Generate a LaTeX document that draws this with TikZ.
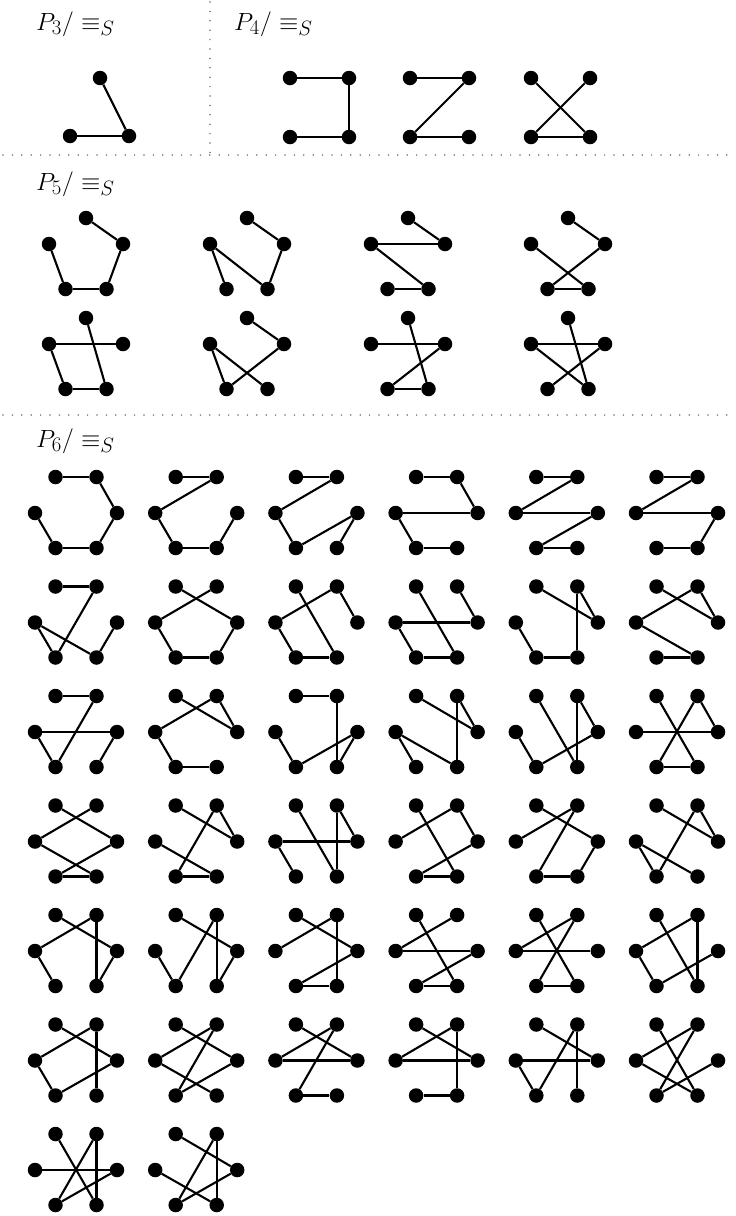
\documentclass[tikz,border=0pt]{standalone}
\newcommand{\HexG}[4]{%
  \node[dot] (#1tl) at ({#2-20.5},#3) {};
  \node[dot] (#1tr) at ({#2+20.5},#3) {};
  \node[dot] (#1l) at ({#2-41},{#3+36}) {};
  \node[dot] (#1r) at ({#2+41},{#3+36}) {};
  \node[dot] (#1bl) at ({#2-20.5},{#3+71}) {};
  \node[dot] (#1br) at ({#2+20.5},{#3+71}) {};
  \foreach \pa/\pb in {#4} {\draw[edge] (#1\pa) -- (#1\pb);}%
}
\newcommand{\PentG}[4]{%
  \node[dot] (#1t) at (#2,#3) {};
  \node[dot] (#1ul) at ({#2-37},{#3+26}) {};
  \node[dot] (#1ur) at ({#2+37},{#3+26}) {};
  \node[dot] (#1bl) at ({#2-20.5},{#3+71}) {};
  \node[dot] (#1br) at ({#2+20.5},{#3+71}) {};
  \foreach \pa/\pb in {#4} {\draw[edge] (#1\pa) -- (#1\pb);}%
}
\newcommand{\SqG}[4]{%
  \node[dot] (#1tl) at (#2,#3) {};
  \node[dot] (#1tr) at ({#2+59},#3) {};
  \node[dot] (#1bl) at (#2,{#3+59}) {};
  \node[dot] (#1br) at ({#2+59},{#3+59}) {};
  \foreach \pa/\pb in {#4} {\draw[edge] (#1\pa) -- (#1\pb);}%
}
\begin{document}
\begin{tikzpicture}[x=1pt,y=-1pt,
  dot/.style={circle,fill=black,draw=none,inner sep=0pt,minimum size=14.5pt},
  edge/.style={line width=2.1pt,black},
  sepline/.style={line width=1.7pt,black!55,dash pattern=on 0pt off 9.4pt,line cap=round},
  lab/.style={anchor=base west,inner sep=0pt,font=\fontsize{29.5}{34}\selectfont}]
\useasboundingbox (0,0) rectangle (736,1216);
% separators
\coordinate (vtop) at (210,2);
\coordinate (vbot) at (210,155);
\coordinate (h1l) at (3,155);
\coordinate (h1r) at (736,155);
\coordinate (h2l) at (3,415);
\coordinate (h2r) at (736,415);
\draw[sepline] (vtop) -- (vbot);
\draw[sepline] (h1l) -- (h1r);
\draw[sepline] (h2l) -- (h2r);
% labels
\node[lab] (L3) at (36,30) {$P_3/\equiv_S$};
\node[lab] (L4) at (234,30) {$P_4/\equiv_S$};
\node[lab] (L5) at (36,190) {$P_5/\equiv_S$};
\node[lab] (L6) at (36,447) {$P_6/\equiv_S$};
% P3
\node[dot] (p3t) at (100,78) {};
\node[dot] (p3bl) at (70,136) {};
\node[dot] (p3br) at (129,136) {};
\draw[edge] (p3t) -- (p3br);
\draw[edge] (p3bl) -- (p3br);
% P4
\SqG{qa}{290}{78}{tl/tr,tr/br,br/bl}
\SqG{qb}{410}{78}{tl/tr,tr/bl,bl/br}
\SqG{qc}{531}{78}{tl/br,tr/bl,bl/br}
% P5
\PentG{pa}{86}{218}{t/ur,ul/bl,ur/br,bl/br}
\PentG{pb}{247}{218}{t/ur,ul/bl,ul/br,ur/br}
\PentG{pc}{408}{218}{t/ur,ul/ur,ul/br,bl/br}
\PentG{pd}{568}{218}{t/ur,ul/br,ur/bl,bl/br}
\PentG{pe}{86}{318}{t/br,ul/ur,ul/bl,bl/br}
\PentG{pf}{247}{318}{t/ur,ul/bl,ul/br,ur/bl}
\PentG{pg}{408}{318}{t/br,ul/ur,ur/bl,bl/br}
\PentG{ph}{568}{318}{t/br,ul/ur,ul/br,ur/bl}
% P6 row 1
\HexG{ha}{76}{477}{tl/tr,tr/r,r/br,br/bl,bl/l}
\HexG{hb}{196.2}{477}{tl/tr,tr/l,l/bl,bl/br,br/r}
\HexG{hc}{316.4}{477}{tl/tr,tr/l,l/bl,bl/r,r/br}
\HexG{hd}{436.6}{477}{tl/tr,tr/r,r/l,l/bl,bl/br}
\HexG{he}{556.8}{477}{tl/tr,tr/l,l/r,r/bl,bl/br}
\HexG{hf}{677}{477}{tl/tr,tr/l,l/r,r/br,br/bl}
% row 2
\HexG{hg}{76}{586.5}{tl/tr,tr/bl,bl/l,l/br,br/r}
\HexG{hh}{196.2}{586.5}{tl/r,tr/l,l/bl,bl/br,br/r}
\HexG{hi}{316.4}{586.5}{tl/br,tr/l,tr/r,l/bl,bl/br}
\HexG{hj}{436.6}{586.5}{tl/br,tr/r,r/l,l/bl,bl/br}
\HexG{hk}{556.8}{586.5}{tl/r,tr/r,tr/br,l/bl,bl/br}
\HexG{hm}{677}{586.5}{tl/r,tr/l,tr/r,l/br,br/bl}
% row 3
\HexG{hn}{76}{696}{tl/tr,tr/bl,l/r,l/bl,r/br}
\HexG{ho}{196.2}{696}{tl/r,tr/l,tr/r,l/bl,bl/br}
\HexG{hp}{316.4}{696}{tl/tr,tr/br,l/bl,bl/r,r/br}
\HexG{hq}{436.6}{696}{tl/r,tr/r,tr/br,l/bl,l/br}
\HexG{hr}{556.8}{696}{tl/br,tr/br,tr/r,r/bl,bl/l}
\HexG{hs}{677}{696}{tl/br,tr/bl,tr/r,l/r,bl/br}
% row 4
\HexG{ht}{76}{805.5}{tl/r,tr/l,l/br,r/bl,bl/br}
\HexG{hu}{196.2}{805.5}{tl/r,tr/r,tr/bl,l/br,bl/br}
\HexG{hv}{316.4}{805.5}{tl/br,tr/br,tr/r,l/r,l/bl}
\HexG{hw}{436.6}{805.5}{tl/br,tr/l,tr/r,r/bl,bl/br}
\HexG{hx}{556.8}{805.5}{tl/r,tr/l,tr/bl,r/br,bl/br}
\HexG{hy}{677}{805.5}{tl/r,tr/r,tr/bl,l/bl,l/br}
% row 5
\HexG{ia}{76}{915}{tl/r,tr/l,tr/br,l/bl,r/br}
\HexG{ib}{196.2}{915}{tl/r,tr/bl,tr/br,l/bl,r/br}
\HexG{ic}{316.4}{915}{tl/r,tr/l,tr/br,r/bl,bl/br}
\HexG{id}{436.6}{915}{tl/br,tr/l,l/r,r/bl,bl/br}
\HexG{ie}{556.8}{915}{tl/br,tr/l,tr/bl,l/r,bl/br}
\HexG{if}{677}{915}{tl/br,tr/l,tr/br,l/bl,bl/r}
% row 6
\HexG{ig}{76}{1024.5}{tl/r,tr/l,tr/br,l/bl,bl/r}
\HexG{ih}{196.2}{1024.5}{tl/r,tr/l,tr/bl,l/br,r/bl}
\HexG{ii}{316.4}{1024.5}{tl/r,tr/l,tr/bl,l/r,bl/br}
\HexG{ij}{436.6}{1024.5}{tl/r,tr/l,tr/br,l/r,bl/br}
\HexG{ik}{556.8}{1024.5}{tl/r,tr/bl,tr/br,l/r,l/bl}
\HexG{im}{677}{1024.5}{tl/br,tr/l,tr/bl,l/br,r/bl}
% row 7
\HexG{in}{76}{1134}{tl/br,tr/bl,tr/br,l/r,r/bl}
\HexG{io}{196.2}{1134}{tl/r,tr/bl,tr/br,l/br,r/bl}
\end{tikzpicture}
\end{document}
